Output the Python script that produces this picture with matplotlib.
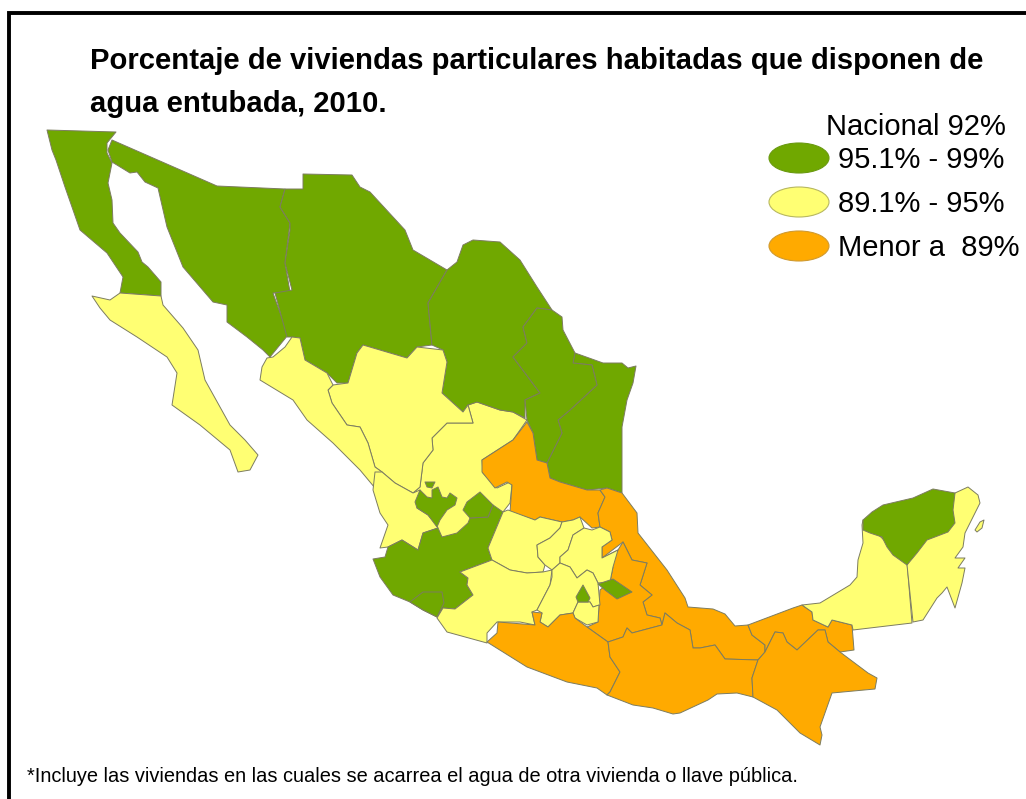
import matplotlib
matplotlib.use("Agg")
import matplotlib.pyplot as plt
from matplotlib.patches import Polygon, Ellipse

plt.rcParams['font.family'] = ['Liberation Sans', 'DejaVu Sans']

GREEN  = "#70a800"
YELLOW = "#ffff73"
ORANGE = "#ffaa00"

title_lines = ["Porcentaje de viviendas particulares habitadas que disponen de",
               "agua entubada, 2010."]
footnote = "*Incluye las viviendas en las cuales se acarrea el agua de otra vivienda o llave pública."
national = "Nacional 92%"
legend_labels = ["95.1% - 99%", "89.1% - 95%", "Menor a  89%"]
legend_colors = [GREEN, YELLOW, ORANGE]
legend_edges = ["#6a9a10", "#b8b860", "#d09a30"]

# state outlines (pixel positions of the source map)
baja_california = [(47,130),(116,132),(107,143),(107,153),(112,163),(108,183),(112,200),(113,223),(120,233),(138,252),
                   (142,262),(148,267),(161,282),(161,296),(120,293),(123,277),(107,253),(80,230),(72,207),(65,187),(56,160),(52,150)]
baja_sur = [(92,296),(110,300),(120,293),(161,296),(163,305),(183,328),(198,350),(205,380),(230,425),(245,440),(258,455),
            (250,470),(238,472),(230,450),(200,425),(172,405),(177,373),(167,357),(137,337),(110,320),(100,308)]
sonora = [(112,140),(217,186),(285,189),(280,207),(290,223),(285,263),(290,292),(273,293),(288,335),(270,357),(263,350),
          (247,337),(227,322),(227,305),(213,302),(183,267),(167,227),(158,188),(145,182),(137,172),(130,173),(112,162),(108,150)]
chihuahua = [(285,189),(303,189),(303,174),(352,175),(360,187),(370,192),(405,230),(413,250),(447,270),(428,303),(432,345),
             (417,347),(407,358),(363,345),(357,353),(348,383),(337,383),(327,373),(305,360),(300,338),(292,337),(287,337),
             (275,293),(292,290),(285,263),(290,230),(290,223),(280,207)]
coahuila = [(447,270),(457,262),(463,245),(473,240),(500,242),(520,260),(537,287),(552,310),(537,308),(523,327),(527,343),
            (513,357),(540,393),(525,400),(525,418),(513,412),(500,410),(477,402),(468,405),(463,412),(442,393),(447,362),
            (443,350),(432,345),(428,303)]
nuevo_leon = [(537,308),(552,310),(562,317),(563,330),(575,353),(573,363),(592,365),(597,385),(570,410),(558,420),(562,433),
              (547,463),(537,460),(533,433),(527,420),(525,400),(540,393),(513,357),(527,343),(523,327)]
tamaulipas = [(575,353),(603,363),(622,363),(628,368),(636,366),(633,383),(627,400),(622,427),(622,493),(607,488),(587,490),
              (560,482),(550,478),(547,463),(562,433),(558,420),(570,410),(597,385),(592,365),(573,363)]
sinaloa = [(285,347),(292,337),(300,338),(305,360),(327,373),(333,385),(328,390),(332,403),(347,425),(360,427),(368,443),
           (375,467),(382,472),(375,488),(360,470),(333,443),(307,420),(293,400),(260,380),(262,367),(267,358),(273,357)]
durango = [(363,345),(407,358),(417,347),(443,350),(447,362),(442,393),(463,412),(468,405),(473,423),(447,423),(432,438),
           (433,450),(423,463),(420,487),(413,493),(395,483),(382,472),(375,467),(368,443),(360,427),(347,425),(332,403),
           (328,390),(333,385),(348,383),(357,353)]
zacatecas = [(432,438),(447,423),(473,423),(468,405),(477,402),(500,410),(513,412),(527,420),(513,440),(482,460),(483,473),
             (497,488),(510,482),(512,485),(510,503),(503,512),(488,530),(468,535),(443,538),(420,520),(413,493),(420,487),
             (423,463),(433,450)]
nayarit = [(375,472),(382,472),(395,483),(413,493),(420,490),(417,508),(428,515),(435,523),(438,528),(423,533),(418,550),
           (410,545),(402,540),(388,547),(380,548),(388,525),(380,513),(373,490)]
jalisco = [(438,528),(423,533),(418,550),(410,545),(402,540),(388,547),(385,557),(373,559),(380,577),(393,595),(410,602),
           (423,610),(437,617),(443,608),(455,609),(473,595),(467,585),(468,578),(460,572),(492,560),(488,548),(503,512),
           (493,505),(488,517),(470,518),(468,523),(457,533),(442,537)]
jalisco_north = [(415,502),(420,490),(427,497),(432,498),(432,490),(438,487),(442,497),(447,498),(450,493),(457,498),(455,505),
                 (447,510),(440,520),(437,527),(428,515),(417,508)]
jalisco_island = [(425,482),(435,482),(432,488),(427,487)]
colima = [(410,602),(423,592),(442,592),(444,603),(437,617),(423,610)]
aguascalientes = [(463,510),(467,502),(480,492),(493,505),(488,517),(470,518)]
san_luis = [(527,422),(533,433),(537,460),(547,463),(550,478),(560,482),(587,490),(600,490),(605,497),(598,513),(600,527),
            (592,528),(580,517),(573,520),(562,522),(540,517),(535,520),(510,512),(512,485),(507,482),(495,488),(482,472),
            (482,460),(513,440)]
guanajuato = [(492,560),(488,548),(503,512),(508,510),(535,520),(540,517),(562,522),(560,528),(550,538),(537,545),(538,557),
              (545,565),(543,572),(527,573),(510,570)]
queretaro = [(562,522),(573,520),(580,517),(584,528),(573,535),(568,550),(560,557),(560,563),(552,570),(545,565),(538,557),
             (537,545),(550,538),(560,528)]
hidalgo = [(584,528),(592,530),(600,527),(610,532),(612,540),(602,547),(602,558),(618,550),(613,567),(610,582),(598,583),
           (593,573),(587,570),(577,578),(570,567),(560,563),(560,557),(568,550),(573,535)]
michoacan = [(460,572),(492,560),(510,570),(527,573),(543,572),(552,570),(550,585),(537,610),(532,612),(535,625),(520,622),
             (497,622),(487,633),(487,643),(447,632),(437,618),(443,608),(455,609),(473,595),(467,585),(468,578)]
mexico_state = [(552,570),(560,563),(570,567),(577,578),(587,570),(593,573),(598,583),(600,605),(593,607),(590,602),(578,602),
                (573,613),(560,615),(548,627),(540,622),(542,613),(537,610),(550,585),(552,577)]
distrito_federal = [(576,597),(583,585),(590,598),(588,602),(578,602)]
morelos = [(578,602),(590,602),(593,607),(599,605),(598,622),(587,625),(575,618),(573,613)]
tlaxcala = [(598,584),(613,579),(632,592),(617,599),(605,590)]
puebla = [(602,558),(618,550),(623,542),(632,560),(647,563),(640,585),(652,595),(643,602),(647,615),(660,618),(662,625),
          (632,633),(627,628),(623,637),(608,642),(587,627),(598,622),(600,590),(610,582),(613,567)]
veracruz = [(622,493),(637,513),(638,533),(667,570),(685,598),(688,607),(713,609),(725,614),(735,626),(748,625),(752,635),
            (765,645),(765,652),(758,660),(725,659),(715,645),(700,648),(693,648),(690,630),(677,623),(665,613),(662,625),
            (660,618),(647,615),(643,602),(652,595),(640,585),(647,563),(632,560),(623,542),(602,558),(602,547),(612,540),
            (610,532),(600,527),(598,513),(605,497),(600,490),(607,488)]
oaxaca = [(608,642),(623,637),(627,628),(632,633),(662,625),(665,613),(677,623),(690,630),(693,648),(700,648),(715,645),(725,659),
          (758,660),(752,678),(753,697),(737,693),(717,694),(708,700),(680,713),(673,714),(653,708),(633,705),(607,695),
          (610,692),(620,672),(610,657)]
guerrero = [(487,642),(497,633),(498,622),(535,625),(532,612),(542,613),(540,622),(548,627),(560,615),(573,613),(575,618),
            (587,627),(608,642),(610,657),(620,672),(610,692),(607,695),(597,688),(567,682),(527,667),(503,652)]
chiapas = [(758,660),(765,652),(775,632),(783,633),(787,642),(797,650),(818,630),(825,630),(828,642),(840,652),(868,673),
           (877,678),(875,689),(832,693),(820,727),(822,735),(820,745),(800,733),(777,710),(753,697),(752,678)]
tabasco = [(748,625),(793,608),(802,605),(812,612),(813,620),(828,627),(832,620),(852,625),(854,650),(840,652),(828,642),
           (825,630),(818,630),(797,650),(787,642),(783,633),(775,632),(765,652),(765,645),(752,635)]
campeche = [(802,605),(820,603),(850,585),(857,577),(858,560),(863,543),(862,525),(863,520),(907,562),(912,623),(853,630),
            (852,625),(832,620),(828,627),(813,620),(812,612)]
quintana_roo = [(955,493),(968,487),(978,495),(980,503),(965,533),(963,547),(955,558),(965,558),(958,568),(965,568),(962,583),
                (955,608),(947,587),(942,593),(937,598),(923,620),(913,622),(907,565),(930,520)]
cozumel = [(975,530),(980,522),(984,520),(982,528),(977,532)]
yucatan = [(863,520),(872,512),(883,505),(913,498),(933,489),(955,493),(953,510),(955,523),(948,532),(927,540),(917,553),
           (907,565),(893,555),(887,547),(882,537),(870,533),(863,530)]

# order matters, later states cover the edges of earlier ones
states = [(zacatecas, YELLOW), (baja_california, GREEN), (baja_sur, YELLOW), (sonora, GREEN), (chihuahua, GREEN),
          (coahuila, GREEN), (tamaulipas, GREEN), (nuevo_leon, GREEN), (durango, YELLOW), (sinaloa, YELLOW),
          (nayarit, YELLOW), (san_luis, ORANGE), (jalisco, GREEN), (jalisco_north, GREEN), (jalisco_island, GREEN),
          (colima, GREEN), (aguascalientes, GREEN), (guanajuato, YELLOW), (michoacan, YELLOW), (veracruz, ORANGE),
          (puebla, ORANGE), (queretaro, YELLOW), (hidalgo, YELLOW), (mexico_state, YELLOW), (morelos, YELLOW),
          (distrito_federal, GREEN), (tlaxcala, GREEN), (guerrero, ORANGE), (oaxaca, ORANGE), (tabasco, ORANGE),
          (chiapas, ORANGE), (campeche, YELLOW), (quintana_roo, YELLOW), (cozumel, YELLOW), (yucatan, GREEN)]

fig = plt.figure(figsize=(10.26, 7.99), dpi=100)
ax = fig.add_axes([0, 0, 1, 1])
ax.set_xlim(0, 1026)
ax.set_ylim(799, 0)
ax.axis("off")

# frame only shows on the top and left
ax.plot([9, 9, 1026], [799, 13, 13], color="black", lw=2.8, solid_joinstyle="miter")

for outline, color in states:
    ax.add_patch(Polygon(outline, closed=True, facecolor=color, edgecolor="#7c7c60", lw=0.7, joinstyle="round"))

ax.text(90, 61, title_lines[0], fontsize=21.1, fontweight="bold", va="center", ha="left")
ax.text(90, 104, title_lines[1], fontsize=21.1, fontweight="bold", va="center", ha="left")
ax.text(826, 127, national, fontsize=21, va="center", ha="left")

for i in range(len(legend_labels)):
    y = 158 + i * 44
    ax.add_patch(Ellipse((799, y), 60, 30, facecolor=legend_colors[i], edgecolor=legend_edges[i], lw=0.8))
    ax.text(838, y + 2, legend_labels[i], fontsize=21, va="center", ha="left")

ax.text(27, 777, footnote, fontsize=14.4, va="center", ha="left")

plt.savefig("out.png", dpi=100)
